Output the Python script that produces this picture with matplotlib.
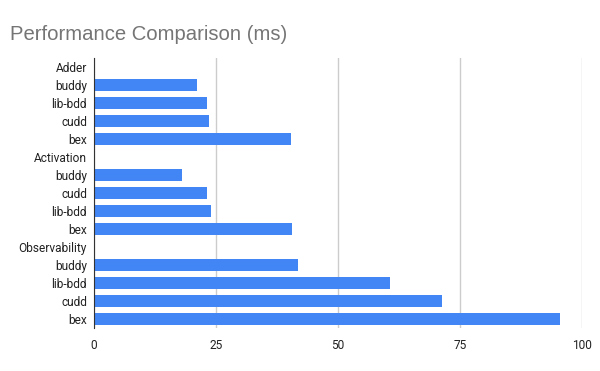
import matplotlib.pyplot as plt
import numpy as np

labels = ["Adder", "buddy", "lib-bdd", "cudd", "bex",
          "Activation", "buddy", "cudd", "lib-bdd", "bex",
          "Observability", "buddy", "lib-bdd", "cudd", "bex"]
times = [0, 21.2, 23.2, 23.6, 40.3,
         0, 18.1, 23.2, 24.0, 40.5,
         0, 41.7, 60.6, 71.4, 95.4]
xticks = [0, 25, 50, 75, 100]

plt.rcParams['font.family'] = ['Roboto', 'DejaVu Sans']

fig = plt.figure(figsize=(6, 3.71), dpi=100)
ax = fig.add_axes([0.1567, 0.116, 0.8133, 0.7277])

y = np.arange(len(labels))
ax.barh(y, times, height=0.65, color="#4285F4", zorder=3)
ax.set_yticks(y)
ax.set_yticklabels(labels, fontsize=8.6, color="#222222")
ax.set_ylim(len(labels) - 0.5, -0.5)
ax.set_xlim(0, 100)
ax.set_xticks(xticks)
ax.set_xticklabels([str(t) for t in xticks], fontsize=8.6, color="#222222")
ax.tick_params(length=0, pad=5)
ax.tick_params(axis='x', pad=8)
ax.grid(axis='x', color="#cccccc", linewidth=1, zorder=0)
for s in ['top', 'right', 'bottom']:
    ax.spines[s].set_visible(False)
ax.spines['left'].set_color("#333333")
ax.spines['left'].set_zorder(4)

fig.text(0.017, 0.892, "Performance Comparison (ms)", fontsize=14.6,
         color="#757575", family=['Liberation Sans', 'DejaVu Sans'])

plt.savefig("out.png")
